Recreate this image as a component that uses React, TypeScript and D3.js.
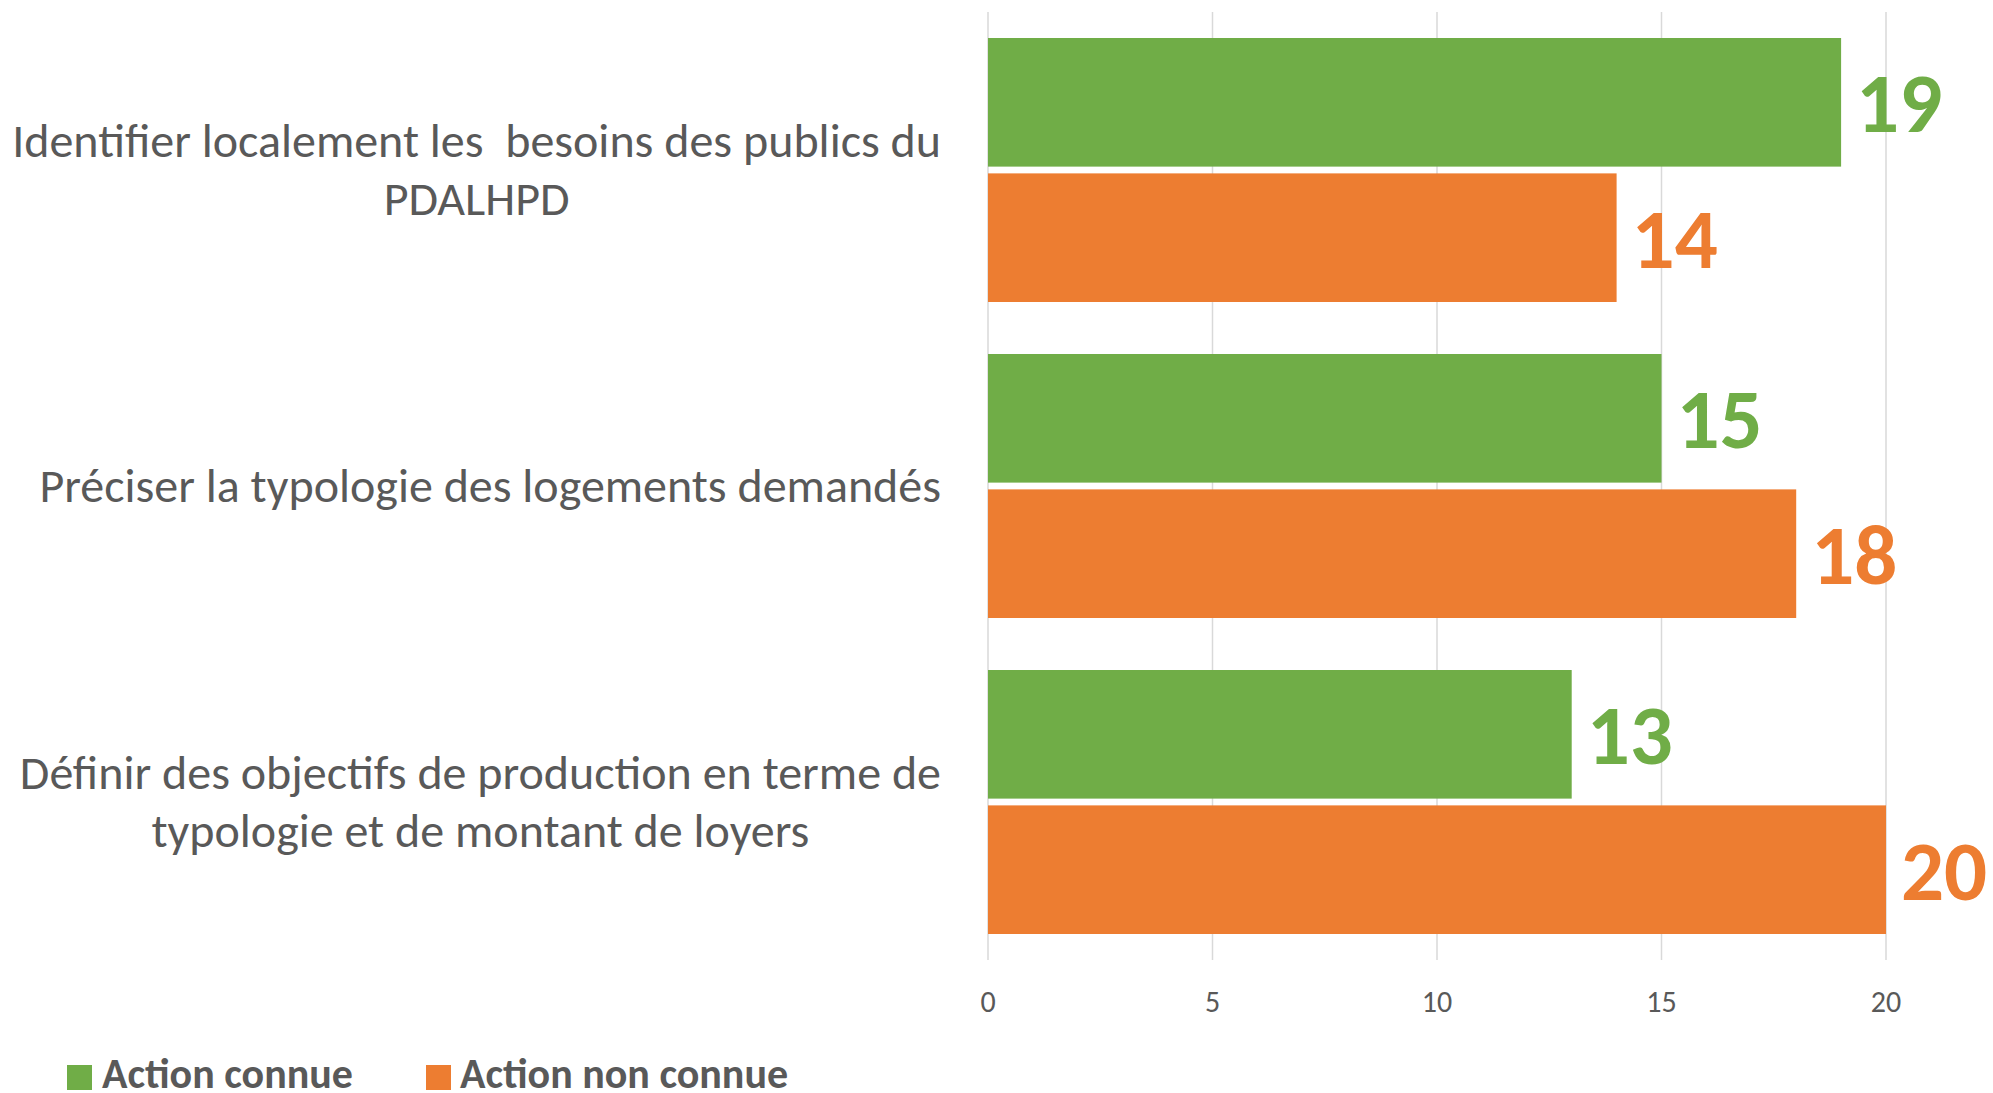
import React, { useEffect, useRef } from "react";
import * as d3 from "d3";

const categories: string[][] = [
  ["Identifier localement les  besoins des publics du", "PDALHPD"],
  ["Préciser la typologie des logements demandés"],
  ["Définir des objectifs de production en terme de", "typologie et de montant de loyers"],
];
const seriesNames = ["Action connue", "Action non connue"];
const actionConnue = [19, 15, 13];
const actionNonConnue = [14, 18, 20];
const xTicks = [0, 5, 10, 15, 20];
const colors = ["#70AD47", "#ED7D31"];

const W = 1993;
const H = 1093;
const FONT = "Carlito, Calibri, Lato, sans-serif";

export default function App() {
  const ref = useRef<SVGSVGElement>(null);
  const x = d3.scaleLinear().domain([0, 20]).range([988, 1886]);
  const y0 = d3
    .scaleBand<number>()
    .domain(d3.range(categories.length))
    .range([12, 960])
    .paddingInner(0.1646)
    .paddingOuter(0.0823);
  const y1 = d3
    .scaleBand<number>()
    .domain([0, 1])
    .range([0, y0.bandwidth()])
    .paddingInner(0.05);
  const series = [actionConnue, actionNonConnue];
  const labelRight = 941;
  const catFont = 48;
  const lineGap = 58;

  useEffect(() => {
    if (!ref.current) return;
    d3.select(ref.current)
      .selectAll<SVGTextElement, unknown>("text.cat")
      .each(function () {
        const spans = d3.select(this).selectAll<SVGTSpanElement, unknown>("tspan");
        let maxW = 0;
        spans.each(function () {
          maxW = Math.max(maxW, this.getComputedTextLength());
        });
        spans.attr("x", labelRight - maxW / 2);
      });
  }, []);

  return (
    <svg ref={ref} width={W} height={H} style={{ position: "absolute", left: 0, top: 0, background: "#fff" }} fontFamily={FONT}>
      {xTicks.map((t) => (
        <line key={"g" + t} x1={x(t)} x2={x(t)} y1={12} y2={960} stroke="#D9D9D9" strokeWidth={1.5} />
      ))}
      {categories.map((_, ci) =>
        series.map((s, si) => {
          const yy = (y0(ci) as number) + (y1(si) as number);
          const bw = y1.bandwidth();
          return (
            <g key={`b${ci}-${si}`}>
              <rect x={x(0)} y={yy} width={x(s[ci]) - x(0)} height={bw} fill={colors[si]} />
              <text x={x(s[ci]) + 15} y={yy + bw / 2 + 30} fontSize={85} fontWeight="bold" fill={colors[si]}>
                {s[ci]}
              </text>
            </g>
          );
        })
      )}
      {categories.map((lines, ci) => {
        const cy = (y0(ci) as number) + y0.bandwidth() / 2;
        const n = lines.length;
        return (
          <text key={"c" + ci} className="cat" fontSize={catFont} fill="#595959" textAnchor="middle" style={{ whiteSpace: "pre" }}>
            {lines.map((ln, li) => (
              <tspan key={li} x={labelRight - 450} y={cy + (li - (n - 1) / 2) * lineGap + 16}>
                {ln}
              </tspan>
            ))}
          </text>
        );
      })}
      {xTicks.map((t) => (
        <text key={"t" + t} x={x(t)} y={1012} fontSize={30} fill="#595959" textAnchor="middle">
          {t}
        </text>
      ))}
      <rect x={67} y={1065} width={25} height={25} fill={colors[0]} />
      <text x={102} y={1088} fontSize={42} fontWeight="bold" fill="#595959">{seriesNames[0]}</text>
      <rect x={426} y={1065} width={25} height={25} fill={colors[1]} />
      <text x={460} y={1088} fontSize={42} fontWeight="bold" fill="#595959">{seriesNames[1]}</text>
    </svg>
  );
}
